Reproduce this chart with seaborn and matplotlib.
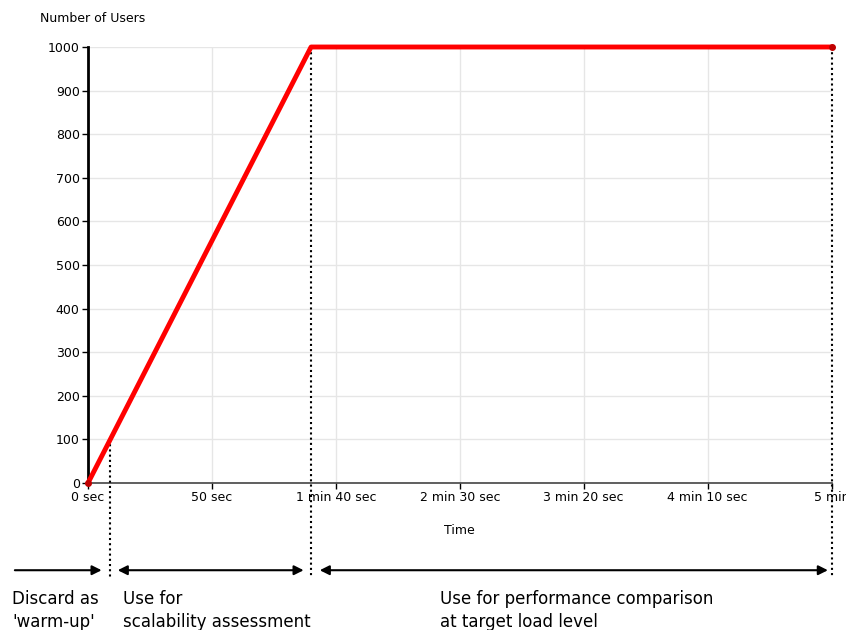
import numpy as np
import pandas as pd
import matplotlib
matplotlib.use("Agg")
import matplotlib.pyplot as plt
import seaborn as sns

# load profile: seconds vs number of users
time_sec = [0, 90, 300]
users = [0, 1000, 1000]

x_ticks = [0, 50, 100, 150, 200, 250, 300]
x_tick_labels = ["0 sec", "50 sec", "1 min 40 sec", "2 min 30 sec",
                 "3 min 20 sec", "4 min 10 sec", "5 min"]
y_ticks = list(range(0, 1001, 100))

# phase boundaries (seconds) and the user count where each boundary meets the line
boundary_sec = [9, 90, 300]
boundary_users = [100, 1000, 1000]

phase_labels = ["Discard as\n'warm-up'", "Use for\nscalability assessment",
                "Use for performance comparison\nat target load level"]

sns.set_style("white")
plt.rcParams["font.family"] = ["DejaVu Sans"]
plt.rcParams["text.color"] = "black"
plt.rcParams["xtick.color"] = "black"
plt.rcParams["ytick.color"] = "black"
plt.rcParams["axes.labelcolor"] = "black"

fig = plt.figure(figsize=(8.46, 6.3), dpi=100)
ax = fig.add_axes([0.104, 0.2333, 0.879, 0.6921])

df = pd.DataFrame({"Time": time_sec, "Users": users})
sns.lineplot(data=df, x="Time", y="Users", color="#ff0000", linewidth=3.5,
             ax=ax, clip_on=False, zorder=5)
ax.plot([time_sec[0], time_sec[-1]], [users[0], users[-1]], "o", ms=4,
        color="#c00000", clip_on=False, zorder=6)

ax.set_xlim(0, 300)
ax.set_ylim(0, 1000)
ax.set_xticks(x_ticks)
ax.set_xticklabels(x_tick_labels, fontsize=9)
ax.set_yticks(y_ticks)
ax.set_yticklabels([str(v) for v in y_ticks], fontsize=9)
ax.tick_params(axis="both", direction="out", length=4, width=1, color="black",
               pad=2, bottom=True, left=True)
ax.grid(True, color="#e6e6e6", linewidth=1)

for s in ["top", "right"]:
    ax.spines[s].set_visible(False)
ax.spines["left"].set_color("black")
ax.spines["left"].set_linewidth(2)
ax.spines["bottom"].set_color("#444444")
ax.spines["bottom"].set_linewidth(1.2)

ax.set_xlabel("Time", fontsize=9, labelpad=14)
ax.set_ylabel("")
fig.text(40 / 846, 1 - 18 / 630, "Number of Users", fontsize=9, va="center")

# dotted boundary lines extending below the axis
for bx, by in zip(boundary_sec, boundary_users):
    ax.plot([bx, bx], [by, -218], linestyle=(0, (1, 1.5)), color="black",
            linewidth=1.5, clip_on=False, zorder=4)

# arrows for each phase
arrow_y = -200
ax.annotate("", xy=(5.5, arrow_y), xytext=(-29.5, arrow_y), xycoords="data",
            annotation_clip=False,
            arrowprops=dict(arrowstyle="-|>", color="black", lw=1.5,
                            mutation_scale=14, shrinkA=0, shrinkB=0))
ax.annotate("", xy=(87, arrow_y), xytext=(12, arrow_y), xycoords="data",
            annotation_clip=False,
            arrowprops=dict(arrowstyle="<|-|>", color="black", lw=1.5,
                            mutation_scale=14, shrinkA=0, shrinkB=0))
ax.annotate("", xy=(298.5, arrow_y), xytext=(93.5, arrow_y), xycoords="data",
            annotation_clip=False,
            arrowprops=dict(arrowstyle="<|-|>", color="black", lw=1.5,
                            mutation_scale=14, shrinkA=0, shrinkB=0))

label_x = [-30.5, 14, 142]
for lx, lab in zip(label_x, phase_labels):
    ax.text(lx, -245, lab, fontsize=12, va="top", ha="left",
            linespacing=1.35, clip_on=False)

fig.savefig("out.png", dpi=100)
